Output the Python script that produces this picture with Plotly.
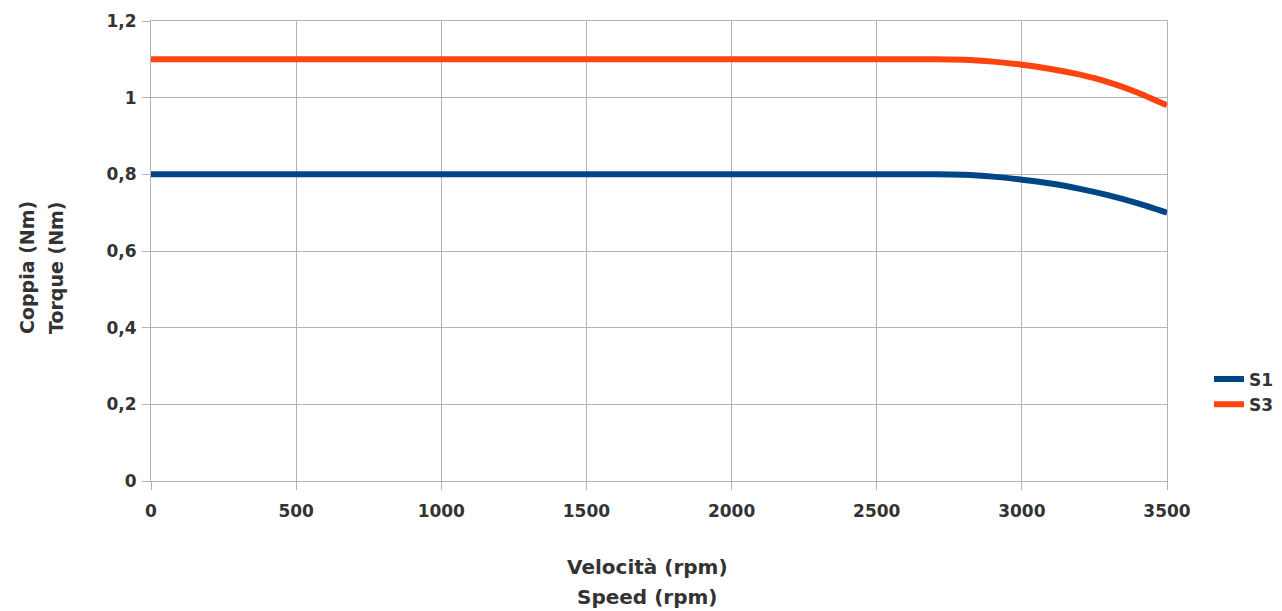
import plotly.graph_objects as go

speed = [0, 500, 1000, 1500, 2000, 2500, 2700, 2800, 2900, 3000, 3100, 3200, 3300, 3400, 3500]
s1_torque = [0.8, 0.8, 0.8, 0.8, 0.8, 0.8, 0.8, 0.799, 0.794, 0.786, 0.776, 0.762, 0.745, 0.724, 0.70]
s3_torque = [1.1, 1.1, 1.1, 1.1, 1.1, 1.1, 1.1, 1.099, 1.094, 1.086, 1.075, 1.06, 1.04, 1.013, 0.98]
series_names = ["S1", "S3"]
series_colors = ["#004586", "#ff420e"]

FONT = "DejaVu Sans"
OX, OY = 8, 8          # page offset of the plot div
W, H = 1282, 611
# target plot area in window pixels
PX0, PX1, PY0, PY1 = 151, 1167, 21, 481
L = PX0 - OX
T = PY0 - OY
R = W - (PX1 - OX)
B = H - (PY1 - OY)
pw = PX1 - PX0
ph = PY1 - PY0


def px(xw):
    return (xw - PX0) / pw


def py(yw):
    return (PY1 - yw) / ph


fig = go.Figure()
for name, vals, col in zip(series_names, [s1_torque, s3_torque], series_colors):
    fig.add_trace(go.Scatter(x=speed, y=vals, mode="lines", name=name,
                             line=dict(color=col, width=6, shape="spline", smoothing=0.6)))

axis_common = dict(showgrid=True, gridcolor="#b3b3b3", gridwidth=1,
                   showline=True, linecolor="#b3b3b3", linewidth=1, mirror=True,
                   ticks="outside", ticklen=8, tickcolor="#b3b3b3",
                   zeroline=False,
                   tickfont=dict(family=FONT, size=17, color="#333333", weight="bold"))

fig.update_xaxes(range=[0, 3500], dtick=500, tick0=0, ticklabelstandoff=7, **axis_common)
fig.update_yaxes(range=[0, 1.2], dtick=0.2, tick0=0, ticklabelstandoff=2, **axis_common)

for txt, yw in [("Velocità (rpm)", 567), ("Speed (rpm)", 597)]:
    fig.add_annotation(text=f"<b>{txt}</b>", xref="paper", yref="paper",
                       x=px(647), y=py(yw), xanchor="center", yanchor="middle",
                       showarrow=False, font=dict(family=FONT, size=20, color="#333333"))
for txt, xw in [("Coppia (Nm)", 27), ("Torque (Nm)", 56)]:
    fig.add_annotation(text=f"<b>{txt}</b>", xref="paper", yref="paper",
                       x=px(xw), y=py(268), xanchor="center", yanchor="middle",
                       showarrow=False, textangle=-90,
                       font=dict(family=FONT, size=19, color="#333333"))

fig.update_layout(
    width=W, height=H,
    margin=dict(l=L, r=R, t=T, b=B, autoexpand=False),
    paper_bgcolor="white", plot_bgcolor="white",
    separators=",.",
    showlegend=True,
    legend=dict(x=px(1209), y=py(392), xanchor="left", yanchor="middle",
                font=dict(family=FONT, size=17, color="#333333", weight="bold"),
                bgcolor="rgba(0,0,0,0)", tracegroupgap=0, itemwidth=30),
)

fig.write_html("out.html")
